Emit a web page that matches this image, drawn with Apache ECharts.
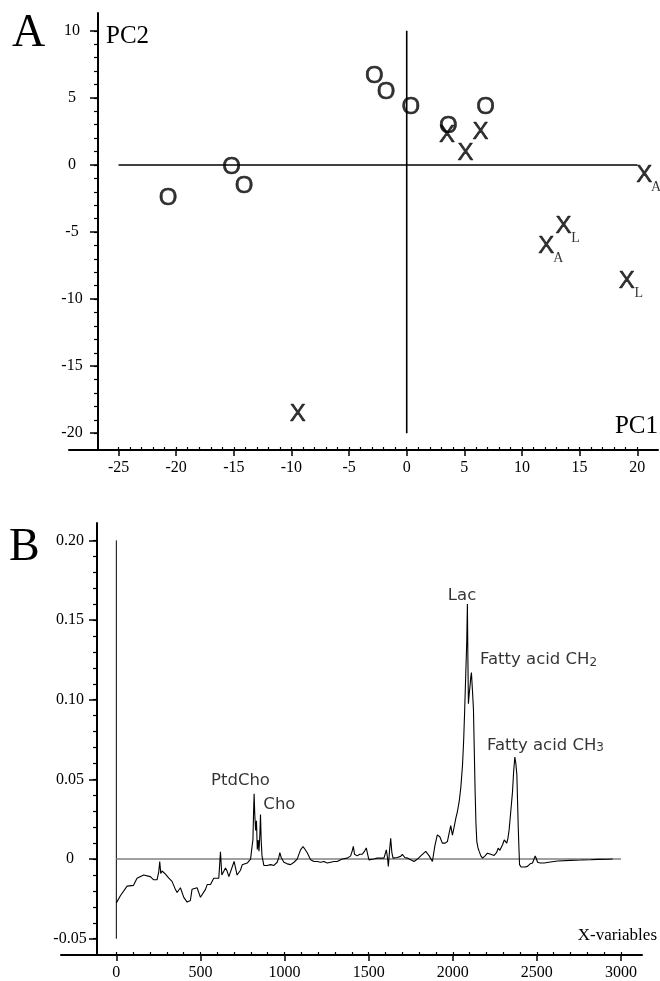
<!DOCTYPE html>
<html>
<head>
<meta charset="utf-8">
<script src="https://cdn.jsdelivr.net/npm/echarts@6.0.0/dist/echarts.min.js"></script>
<style>html,body{margin:0;padding:0;background:#fff}#main{width:660px;height:981px}</style>
</head>
<body>
<div id="main"></div>
<script>
var myChart = echarts.init(document.getElementById('main'));

// panel A : PCA scores
var pcX    = [-20.7, -15.2, -14.1, -2.8, -1.8, 0.35, 3.6, 6.85, 3.5, 5.1, 6.4, 20.6, 13.6, 12.1, 19.1, -9.45];
var pcY    = [-2.5, -0.2, -1.6, 6.6, 5.4, 4.3, 2.9, 4.3, 2.2, 0.9, 2.4, -0.8, -4.6, -6.1, -8.7, -18.6];
var pcMark = ['O','O','O','O','O','O','O','O','X','X','X','X','X','X','X','X'];
var pcSub  = ['','','','','','','','','','','','A','L','A','L',''];
var pcTicksX = [-25, -20, -15, -10, -5, 0, 5, 10, 15, 20];
var pcTicksY = [-20, -15, -10, -5, 0, 5, 10];
var pcHLine = [[-25, 0], [20, 0]];
var pcVLine = [[0, -20], [0, 10]];

// panel B : loading spectrum (x-variable, loading)
var spec = [
 [0,-0.0275],[24,-0.023],[64,-0.017],[102,-0.0165],[123,-0.012],[162,-0.010],[202,-0.011],[222,-0.013],
 [242,-0.013],[252,-0.008],[258,-0.0015],[264,-0.009],[272,-0.0075],[292,-0.0095],[312,-0.012],[331,-0.014],
 [351,-0.019],[361,-0.021],[381,-0.018],[401,-0.024],[411,-0.023],[421,-0.027],[440,-0.026],[450,-0.019],
 [460,-0.020],[480,-0.018],[500,-0.024],[530,-0.019],[540,-0.016],[560,-0.016],[579,-0.012],[609,-0.012],
 [619,0.0045],[627,-0.010],[649,-0.0056],[659,-0.0077],[669,-0.011],[679,-0.0098],[700,-0.0015],[718,-0.010],
 [738,-0.007],[748,-0.0036],[778,-0.0025],[798,0],[808,0.009],[812,0.012],[816,0.030],[819,0.041],
 [823,0.028],[828,0.018],[833,0.024],[838,0.006],[843,0.012],[848,0.005],[853,0.015],[857,0.028],
 [861,0.012],[866,0.002],[877,-0.004],[897,-0.004],[917,-0.0035],[937,-0.004],[956,-0.002],[966,0.001],
 [972,0.004],[980,0.001],[996,-0.002],[1016,-0.003],[1036,-0.0035],[1056,-0.002],[1075,0.0],[1095,0.0058],
 [1110,0.0079],[1119,0.0085],[1135,0.004],[1155,-0.0005],[1175,-0.0015],[1194,-0.0015],[1214,-0.002],[1234,-0.0015],
 [1254,-0.0025],[1274,-0.002],[1294,-0.0015],[1313,-0.0015],[1343,0],[1373,0.0006],[1393,0.002],[1402,0.005],
 [1409,0.008],[1416,0.003],[1432,0.002],[1447,0.003],[1462,0.003],[1476,0.005],[1486,0.007],[1494,0.003],
 [1502,-0.0005],[1530,0.0],[1551,0.0006],[1591,0.0006],[1605,0.0058],[1612,0.001],[1617,-0.0046],[1624,0.005],
 [1631,0.0131],[1638,0.004],[1645,0.0006],[1670,0.001],[1690,0.0017],[1700,0.003],[1715,0.001],[1730,0.0006],
 [1770,-0.0015],[1790,0.0],[1810,0.002],[1839,0.0048],[1860,0.002],[1879,-0.0015],[1893,0.008],[1908,0.0152],
 [1923,0.014],[1938,0.010],[1955,0.010],[1968,0.011],[1980,0.017],[1988,0.021],[1998,0.015],[2008,0.020],
 [2018,0.0256],[2028,0.030],[2038,0.036],[2048,0.045],[2058,0.059],[2065,0.075],[2071,0.094],[2077,0.115],
 [2083,0.136],[2087,0.160],[2090,0.125],[2093,0.0975],[2098,0.104],[2103,0.109],[2107,0.114],[2111,0.117],
 [2117,0.106],[2123,0.094],[2128,0.068],[2133,0.042],[2138,0.022],[2143,0.011],[2150,0.007],[2157,0.0048],
 [2167,0.002],[2177,0.0006],[2192,0.002],[2206,0.0037],[2226,0.003],[2246,0.0023],[2260,0.004],[2270,0.0069],
 [2280,0.0055],[2286,0.006],[2296,0.009],[2306,0.012],[2314,0.011],[2321,0.010],[2328,0.013],[2335,0.0183],
 [2345,0.030],[2355,0.042],[2362,0.055],[2369,0.064],[2375,0.060],[2381,0.053],[2385,0.037],[2389,0.021],
 [2393,0.008],[2397,-0.0035],[2406,-0.005],[2415,-0.0056],[2430,-0.005],[2444,-0.0046],[2460,-0.003],[2474,-0.0025],
 [2485,0.0005],[2490,0.002],[2496,0.0005],[2504,-0.002],[2520,-0.0025],[2543,-0.0025],[2580,-0.0018],[2623,-0.0012],
 [2700,-0.0008],[2762,-0.0006],[2820,-0.0004],[2861,-0.0002],[2920,-0.0001],[2950,0]
];
var spTicksX = [0, 500, 1000, 1500, 2000, 2500, 3000];
var spTicksY = [-0.05, 0, 0.05, 0.10, 0.15, 0.20];
var spZero = [[0, 0], [3000, 0]];
var spVLine = [[0, -0.05], [0, 0.20]];

// peak names
var annText  = ['Lac', '{t|Fatty acid CH}{s|2}', '{t|Fatty acid CH}{s|3}', 'PtdCho', 'Cho'];
var annX     = [2055, 2162, 2203, 738, 874];
var annY     = [0.1653, 0.125, 0.0713, 0.0491, 0.0344];
var annAlign = ['center', 'left', 'left', 'center', 'left'];

// minor ticks between the outer major ticks
function minorTicks(lo, hi, step) {
    var r = [];
    for (var i = Math.round(lo / step); i <= Math.round(hi / step); i++) r.push(+(i * step).toFixed(4));
    return r;
}

var serif = 'Liberation Serif';
function majorAxis(grid, pos, min, max, ticks, extra) {
    var a = {
        gridIndex: grid, type: 'value', position: pos, min: min, max: max,
        axisLine: {onZero: false, lineStyle: {color: '#000', width: 2}},
        axisTick: {customValues: ticks, length: 6, lineStyle: {color: '#000', width: 1.5}},
        axisLabel: {customValues: ticks, color: '#000', fontFamily: serif, fontSize: 16, margin: 10,
                    formatter: function (v) { return String(v); }},
        splitLine: {show: false}
    };
    return echarts.util.merge(a, extra || {}, true);
}
function minorAxis(grid, pos, min, max, ticks, extra) {
    var a = {
        gridIndex: grid, type: 'value', position: pos, min: min, max: max,
        axisLine: {show: false, onZero: false},
        axisTick: {customValues: ticks, length: 3, lineStyle: {color: '#000', width: 1.2}},
        axisLabel: {show: false},
        splitLine: {show: false}
    };
    return echarts.util.merge(a, extra || {}, true);
}

var fmtB = function (v) { return v === 0 ? '0' : v.toFixed(2); };

option = {
    animation: false,
    grid: [
        {left: 69, right: 2, top: 13, height: 437},
        {left: 61, right: 18, top: 523, height: 434}
    ],
    xAxis: [
        majorAxis(0, 'bottom', -29.3, 21.8, pcTicksX),
        minorAxis(0, 'bottom', -29.3, 21.8, minorTicks(-25, 20, 1), {axisTick: {inside: true}}),
        majorAxis(1, 'bottom', -329, 3125, spTicksX),
        minorAxis(1, 'bottom', -329, 3125, minorTicks(0, 3000, 100), {axisTick: {inside: true}})
    ],
    yAxis: [
        majorAxis(0, 'left', -21.25, 11.33, pcTicksY, {offset: -29, axisTick: {length: 8}, axisLabel: {align: 'center', margin: 26}}),
        minorAxis(0, 'left', -21.25, 11.33, minorTicks(-20, 10, 1), {offset: -29, axisTick: {length: 4}}),
        majorAxis(1, 'left', -0.0602, 0.2109, spTicksY, {offset: -36, axisTick: {length: 8}, axisLabel: {align: 'center', margin: 27, formatter: fmtB}}),
        minorAxis(1, 'left', -0.0602, 0.2109, minorTicks(-0.05, 0.20, 0.01), {offset: -36, axisTick: {length: 4}})
    ],
    graphic: [
        {type: 'text', x: 12, y: 34, style: {text: 'A', font: '46px "Liberation Serif"', fill: '#000', align: 'left', verticalAlign: 'middle', textAlign: 'left', textVerticalAlign: 'middle'}},
        {type: 'text', x: 9, y: 548, style: {text: 'B', font: '46px "Liberation Serif"', fill: '#000', align: 'left', verticalAlign: 'middle', textAlign: 'left', textVerticalAlign: 'middle'}},
        {type: 'text', x: 106, y: 36, style: {text: 'PC2', font: '25px "Liberation Serif"', fill: '#000', align: 'left', verticalAlign: 'middle', textAlign: 'left', textVerticalAlign: 'middle'}},
        {type: 'text', x: 658, y: 426, style: {text: 'PC1', font: '25px "Liberation Serif"', fill: '#000', align: 'right', verticalAlign: 'middle', textAlign: 'right', textVerticalAlign: 'middle'}},
        {type: 'text', x: 657, y: 936, style: {text: 'X-variables', font: '17px "Liberation Serif"', fill: '#000', align: 'right', verticalAlign: 'middle', textAlign: 'right', textVerticalAlign: 'middle'}}
    ],
    series: [
        {type: 'line', xAxisIndex: 0, yAxisIndex: 0, data: pcHLine, symbol: 'none', silent: true,
         lineStyle: {color: '#000', width: 1.6}},
        {type: 'line', xAxisIndex: 0, yAxisIndex: 0, data: pcVLine, symbol: 'none', silent: true,
         lineStyle: {color: '#000', width: 1.6}},
        {   // O / X markers drawn as glyphs
            type: 'scatter', xAxisIndex: 0, yAxisIndex: 0, symbolSize: 1, silent: true,
            itemStyle: {color: 'rgba(0,0,0,0)'},
            data: pcX.map(function (x, i) { return [x, pcY[i]]; }),
            label: {show: true, position: 'inside', color: '#000', fontFamily: 'Liberation Sans', fontSize: 24,
                    textBorderColor: '#000', textBorderWidth: 0.6,
                    formatter: function (p) { return pcMark[p.dataIndex]; }}
        },
        {   // subscripts A / L
            type: 'scatter', xAxisIndex: 0, yAxisIndex: 0, symbolSize: 1, silent: true,
            itemStyle: {color: 'rgba(0,0,0,0)'},
            data: pcX.map(function (x, i) { return [x, pcY[i]]; }),
            label: {show: true, position: 'inside', offset: [12, 12], color: '#000', fontFamily: serif, fontSize: 14,
                    textBorderWidth: 0,
                    formatter: function (p) { return pcSub[p.dataIndex]; }}
        },
        {type: 'line', xAxisIndex: 2, yAxisIndex: 2, data: spVLine, symbol: 'none', silent: true,
         lineStyle: {color: '#000', width: 1}},
        {type: 'line', xAxisIndex: 2, yAxisIndex: 2, data: spZero, symbol: 'none', silent: true,
         lineStyle: {color: '#808080', width: 1.5}},
        {type: 'line', xAxisIndex: 2, yAxisIndex: 2, data: spec, symbol: 'none', silent: true,
         lineStyle: {color: '#000', width: 1.1}},
        {   // peak names
            type: 'scatter', xAxisIndex: 2, yAxisIndex: 2, symbolSize: 1, silent: true,
            itemStyle: {color: 'rgba(0,0,0,0)'},
            data: annX.map(function (x, i) {
                return {value: [x, annY[i]], label: {align: annAlign[i]}};
            }),
            label: {show: true, position: 'inside', color: '#000', fontFamily: 'DejaVu Sans', fontSize: 16.5,
                    textBorderWidth: 0,
                    formatter: function (p) { return annText[p.dataIndex]; },
                    rich: {
                        t: {fontFamily: 'DejaVu Sans', fontSize: 16.5, color: '#000'},
                        s: {fontFamily: 'DejaVu Sans', fontSize: 12, color: '#000', verticalAlign: 'bottom', lineHeight: 12}
                    }}
        }
    ]
};

myChart.setOption(option);
</script>
</body>
</html>
